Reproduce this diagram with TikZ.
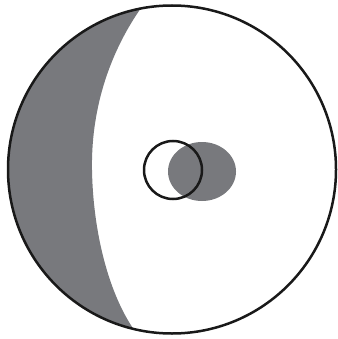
\documentclass[tikz,border=0pt]{standalone}
\usepackage{tikz}
\usetikzlibrary{calc}
\definecolor{shadegray}{RGB}{120,121,125}
\tikzset{
	outline/.style={
			draw=black!90,
			line width=2.5pt
		},
	shaded/.style={
			fill=shadegray,
			draw=none
		}
}

\begin{document}
\begin{tikzpicture}[x=1pt, y=-1pt]
	\useasboundingbox (0,0) rectangle (337,339);
	\coordinate (c) at (172,169.5);
	\coordinate (m) at (173,170);
	\coordinate (e) at (202,171.5);

	% left crescent
	\begin{scope}
		\clip (c) circle (164);
		\fill[shaded] (146,1) .. controls (106,55) and (91,115) .. (92,170)
			.. controls (93,230) and (108,295) .. (137,334)
			-- (0,339) -- (0,0) -- cycle;
	\end{scope}

	% middle
	\fill[shaded] (e) ellipse (34 and 29.5);
	\draw[outline] (m) circle (29);

	\draw[outline] (c) circle (164);
\end{tikzpicture}
\end{document}
